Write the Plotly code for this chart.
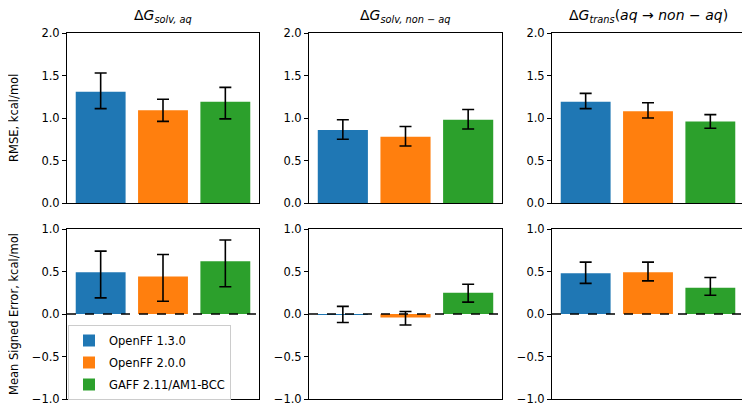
import plotly.graph_objects as go
from plotly.subplots import make_subplots

# ---- data ----
series = ["OpenFF 1.3.0", "OpenFF 2.0.0", "GAFF 2.11/AM1-BCC"]
colors = ["#1f77b4", "#ff7f0e", "#2ca02c"]
positions = [0, 1, 2]

titles = [
    "Δ<i>G</i><sub><i>solv, aq</i></sub>",
    "Δ<i>G</i><sub><i>solv, non − aq</i></sub>",
    "Δ<i>G</i><sub><i>trans</i></sub>(<i>aq</i> → <i>non</i> − <i>aq</i>)",
]

rmse_solv_aq = [1.31, 1.09, 1.19]
rmse_solv_aq_lo = [1.11, 0.96, 0.99]
rmse_solv_aq_hi = [1.53, 1.22, 1.36]

rmse_solv_nonaq = [0.86, 0.78, 0.98]
rmse_solv_nonaq_lo = [0.75, 0.67, 0.87]
rmse_solv_nonaq_hi = [0.98, 0.90, 1.10]

rmse_trans = [1.19, 1.08, 0.96]
rmse_trans_lo = [1.11, 1.00, 0.88]
rmse_trans_hi = [1.29, 1.18, 1.04]

mse_solv_aq = [0.49, 0.44, 0.62]
mse_solv_aq_lo = [0.19, 0.15, 0.32]
mse_solv_aq_hi = [0.74, 0.70, 0.87]

mse_solv_nonaq = [-0.005, -0.04, 0.25]
mse_solv_nonaq_lo = [-0.10, -0.13, 0.14]
mse_solv_nonaq_hi = [0.09, 0.03, 0.35]

mse_trans = [0.48, 0.49, 0.31]
mse_trans_lo = [0.36, 0.39, 0.22]
mse_trans_hi = [0.61, 0.61, 0.43]

panels = [
    (1, 1, rmse_solv_aq, rmse_solv_aq_lo, rmse_solv_aq_hi),
    (1, 2, rmse_solv_nonaq, rmse_solv_nonaq_lo, rmse_solv_nonaq_hi),
    (1, 3, rmse_trans, rmse_trans_lo, rmse_trans_hi),
    (2, 1, mse_solv_aq, mse_solv_aq_lo, mse_solv_aq_hi),
    (2, 2, mse_solv_nonaq, mse_solv_nonaq_lo, mse_solv_nonaq_hi),
    (2, 3, mse_trans, mse_trans_lo, mse_trans_hi),
]

# page body has an 8px margin; size the figure to fit the window
OFF = 8
W, H = 750 - OFF, 418 - OFF


def px_x(x):
    return (x - OFF) / W


def px_y(y):
    return 1 - (y - OFF) / H


fig = make_subplots(rows=2, cols=3)

for (r, c, vals, lo, hi) in panels:
    for i in range(3):
        fig.add_trace(
            go.Bar(
                x=[positions[i]],
                y=[vals[i]],
                width=0.8,
                marker=dict(color=colors[i], line=dict(width=0)),
                name=series[i],
                legendgroup=series[i],
                showlegend=(r == 2 and c == 1),
                error_y=dict(
                    type="data",
                    symmetric=False,
                    array=[hi[i] - vals[i]],
                    arrayminus=[vals[i] - lo[i]],
                    color="black",
                    thickness=1.6,
                    width=6,
                ),
            ),
            row=r,
            col=c,
        )

# geometry in window pixels
col_px = [(67, 259), (309, 502), (552, 744)]
row_px = [(33, 203), (229, 399)]

axis_common = dict(
    showline=True, linecolor="black", linewidth=1, mirror=True,
    showgrid=False, zeroline=False, automargin=False,
)

for r in (1, 2):
    for c in (1, 2, 3):
        x0, x1 = col_px[c - 1]
        y0, y1 = row_px[r - 1]
        fig.update_xaxes(
            domain=[px_x(x0), px_x(x1)], range=[-0.54, 2.54],
            showticklabels=False, ticks="", **axis_common, row=r, col=c,
        )
        fig.update_yaxes(
            domain=[px_y(y1), px_y(y0)],
            range=[0, 2] if r == 1 else [-1, 1],
            dtick=0.5, tickformat=".1f", ticks="outside", ticklen=4,
            tickwidth=1, tickcolor="black",
            tickfont=dict(size=11.5, color="black"),
            **axis_common, row=r, col=c,
        )
        if r == 2:
            fig.add_hline(y=0, line=dict(color="black", width=1.3, dash="dash"),
                          layer="above", row=r, col=c)

annotations = []
for c in range(3):
    x0, x1 = col_px[c]
    annotations.append(dict(
        x=px_x((x0 + x1) / 2), y=px_y(16), xref="paper", yref="paper",
        text=titles[c], showarrow=False, font=dict(size=14, color="black"),
        xanchor="center", yanchor="middle",
    ))
annotations.append(dict(
    x=px_x(14), y=px_y(118), xref="paper", yref="paper",
    text="RMSE, kcal/mol", showarrow=False, textangle=-90,
    font=dict(size=11.5, color="black"), xanchor="center", yanchor="middle",
))
annotations.append(dict(
    x=px_x(14), y=px_y(314), xref="paper", yref="paper",
    text="Mean Signed Error, kcal/mol", showarrow=False, textangle=-90,
    font=dict(size=11.5, color="black"), xanchor="center", yanchor="middle",
))

fig.update_layout(
    width=W, height=H,
    margin=dict(l=0, r=0, t=0, b=0, autoexpand=False),
    plot_bgcolor="white", paper_bgcolor="white",
    font=dict(family="DejaVu Sans", size=11, color="black"),
    barmode="overlay",
    annotations=annotations,
    legend=dict(
        x=px_x(68), y=px_y(325), xanchor="left", yanchor="top",
        bgcolor="rgba(255,255,255,0.85)", bordercolor="#cccccc", borderwidth=1,
        font=dict(size=11.5, color="black"),
        itemwidth=30, tracegroupgap=3,
    ),
)

fig.write_html("out.html")
